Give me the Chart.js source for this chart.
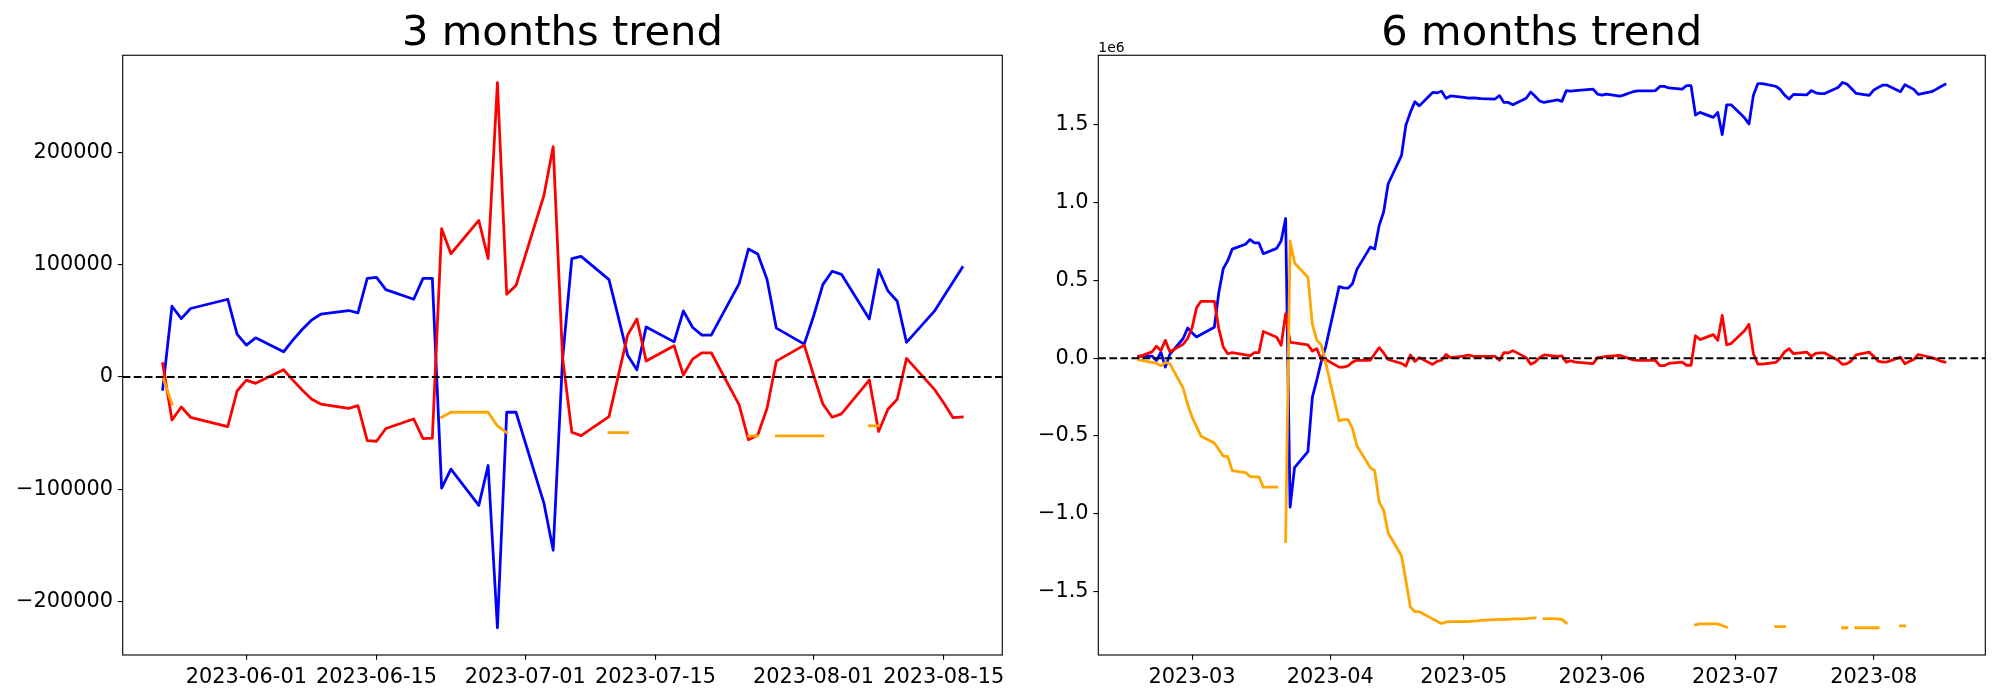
<!DOCTYPE html>
<html>
<head>
<meta charset="utf-8">
<title>Trend</title>
<script src="https://cdn.jsdelivr.net/npm/chart.js@4.4.0/dist/chart.umd.min.js"></script>
<style>
    html, body { margin: 0; padding: 0; background: #fff; }
    #wrap { position: relative; width: 2000px; height: 700px; }
    canvas { position: absolute; top: 0; }
</style>
</head>
<body>
<div id="wrap">
    <canvas id="chart3m" width="1040" height="700" style="left:0;width:1040px;height:700px"></canvas>
    <canvas id="chart6m" width="960" height="700" style="left:1040px;width:960px;height:700px"></canvas>
</div>
<script>
// --- 3 months ---
const dates3m = [
    '2023-05-23', '2023-05-24', '2023-05-25', '2023-05-26', '2023-05-30', '2023-05-31',
    '2023-06-01', '2023-06-02', '2023-06-05', '2023-06-06', '2023-06-07', '2023-06-08', '2023-06-09',
    '2023-06-12', '2023-06-13', '2023-06-14', '2023-06-15', '2023-06-16', '2023-06-19', '2023-06-20',
    '2023-06-21', '2023-06-22', '2023-06-23', '2023-06-26', '2023-06-27', '2023-06-28', '2023-06-29', '2023-06-30',
    '2023-07-03', '2023-07-04', '2023-07-05', '2023-07-06', '2023-07-07', '2023-07-10', '2023-07-11',
    '2023-07-12', '2023-07-13', '2023-07-14', '2023-07-17', '2023-07-18', '2023-07-19', '2023-07-20',
    '2023-07-21', '2023-07-24', '2023-07-25', '2023-07-26', '2023-07-27', '2023-07-28', '2023-07-31',
    '2023-08-01', '2023-08-02', '2023-08-03', '2023-08-04', '2023-08-07', '2023-08-08', '2023-08-09',
    '2023-08-10', '2023-08-11', '2023-08-14', '2023-08-15', '2023-08-16', '2023-08-17'
];
const blue3m = [
    -10900, 63000, 52000, 61000, 69200, 38200,
    28400, 34900, 22500, 32800, 42300, 50600, 55900, 59200, 57100, 87800, 88700, 77800, 69200, 87800,
    87800, -98800, -81900, -114200, -78700, -223000, -31300, -31300,
    -112100, -154100, 15000, 105300, 107400, 86700, 53500, 19500, 6500, 44600, 31300, 58800, 44100, 37300,
    37300, 83100, 113900, 109400, 86700, 43500, 29300,
    54100, 82200, 94100, 91400, 51700, 95500, 76600, 67400, 30800, 58600, 71600, 84600, 97600
];
const red3m = [
    12000, -38200, -26600, -35800, -44100, -12400,
    -2700, -5600, 6500, -2700, -11500, -19500, -24000, -27800, -25400, -56500, -57100, -45800, -37300, -54700,
    -54400, 132000, 109700, 139300, 105300, 262000, 73600, 81400,
    161500, 205000, 18000, -49100, -52100, -35200, 1000, 37300, 51700, 14200, 27800, 1800, 16000, 21600,
    21600, -24800, -55900, -51500, -27800, 14200, 28400,
    1800, -24000, -35800, -32800, -2700, -48500, -28700, -19800, 16600, -10900, -23000, -36100, -35500
];
const orange3m = [
    300, -24000, null, null, null, null,
    null, null, null, null, null, null, null, null, null, null, null, null, null, null,
    null, -35800, -31300, -31300, -31300, -43500, -49400, null,
    null, null, null, null, null, -49400, -49400, -49400, null, null, null, null, null, null,
    null, null, -52400, -52400, null, -52400, -52400,
    -52400, -52400, null, null, -43500, -43500, null, null, null, null, null, null, null
];
const xTicks3m = ['2023-06-01', '2023-06-15', '2023-07-01', '2023-07-15', '2023-08-01', '2023-08-15'];
const yTicks3m = [-200000, -100000, 0, 100000, 200000];

// --- 6 months (values in units of 1e6) ---
const dates6m = [
    '2023-02-17', '2023-02-20', '2023-02-21', '2023-02-22', '2023-02-23', '2023-02-24', '2023-02-27', '2023-02-28',
    '2023-03-01', '2023-03-02', '2023-03-03', '2023-03-06', '2023-03-07', '2023-03-08', '2023-03-09', '2023-03-10',
    '2023-03-13', '2023-03-14', '2023-03-15', '2023-03-16', '2023-03-17', '2023-03-20', '2023-03-21', '2023-03-22',
    '2023-03-23', '2023-03-24', '2023-03-27', '2023-03-28', '2023-03-29', '2023-03-30', '2023-03-31',
    '2023-04-03', '2023-04-04', '2023-04-05', '2023-04-06', '2023-04-07', '2023-04-10', '2023-04-11', '2023-04-12',
    '2023-04-13', '2023-04-14', '2023-04-17', '2023-04-18', '2023-04-19', '2023-04-20', '2023-04-21', '2023-04-24',
    '2023-04-25', '2023-04-26', '2023-04-27', '2023-04-28',
    '2023-05-01', '2023-05-02', '2023-05-03', '2023-05-04', '2023-05-05', '2023-05-08', '2023-05-09', '2023-05-10',
    '2023-05-11', '2023-05-12', '2023-05-15', '2023-05-16', '2023-05-17', '2023-05-18', '2023-05-19', '2023-05-22',
    '2023-05-23', '2023-05-24', '2023-05-25', '2023-05-26', '2023-05-30', '2023-05-31',
    '2023-06-01', '2023-06-02', '2023-06-05', '2023-06-06', '2023-06-07', '2023-06-08', '2023-06-09', '2023-06-12',
    '2023-06-13', '2023-06-14', '2023-06-15', '2023-06-16', '2023-06-19', '2023-06-20', '2023-06-21', '2023-06-22',
    '2023-06-23', '2023-06-26', '2023-06-27', '2023-06-28', '2023-06-29', '2023-06-30',
    '2023-07-03', '2023-07-04', '2023-07-05', '2023-07-06', '2023-07-07', '2023-07-10', '2023-07-11', '2023-07-12',
    '2023-07-13', '2023-07-14', '2023-07-17', '2023-07-18', '2023-07-19', '2023-07-20', '2023-07-21', '2023-07-24',
    '2023-07-25', '2023-07-26', '2023-07-27', '2023-07-28', '2023-07-31',
    '2023-08-01', '2023-08-02', '2023-08-03', '2023-08-04', '2023-08-07', '2023-08-08', '2023-08-09', '2023-08-10',
    '2023-08-11', '2023-08-14', '2023-08-15', '2023-08-16', '2023-08-17'
];
const blue6m = [
    0.014, 0.014, -0.015, 0.039, -0.057, 0.025, 0.127, 0.194,
    0.164, 0.137, 0.152, 0.199, 0.423, 0.576, 0.627, 0.701, 0.733, 0.763, 0.741, 0.741, 0.672, 0.706,
    0.755, 0.898, -0.957, -0.703, -0.600, -0.250, -0.139, -0.020, 0.075,
    0.460, 0.452, 0.450, 0.479, 0.571, 0.714, 0.702, 0.854, 0.940, 1.120, 1.302, 1.499, 1.580, 1.649,
    1.622, 1.708, 1.706, 1.716, 1.671, 1.686,
    1.676, 1.671, 1.674, 1.671, 1.669, 1.666, 1.688, 1.644, 1.644, 1.629, 1.671, 1.711, 1.684, 1.654,
    1.644, 1.661, 1.651, 1.720, 1.716, 1.720, 1.730, 1.698,
    1.691, 1.698, 1.684, 1.693, 1.703, 1.713, 1.718, 1.718, 1.720, 1.747, 1.747, 1.737, 1.730, 1.752,
    1.752, 1.563, 1.580, 1.548, 1.580, 1.437, 1.629, 1.629,
    1.545, 1.506, 1.691, 1.765, 1.765, 1.748, 1.728, 1.691, 1.666, 1.696, 1.693, 1.720, 1.706, 1.701,
    1.701, 1.740, 1.772, 1.762, 1.733, 1.703, 1.689,
    1.723, 1.740, 1.755, 1.755, 1.713, 1.758, 1.743, 1.728, 1.696, 1.713, 1.728, 1.745, 1.760
];
const red6m = [
    0.009, 0.041, 0.078, 0.049, 0.115, 0.041, 0.090, 0.127,
    0.196, 0.324, 0.366, 0.366, 0.189, 0.073, 0.029, 0.036, 0.021, 0.016, 0.036, 0.036, 0.172, 0.135,
    0.083, 0.287, 0.103, 0.098, 0.086, 0.046, 0.061, -0.008, -0.008,
    -0.057, -0.057, -0.050, -0.025, -0.013, -0.013, 0.029, 0.068, 0.034, -0.008, -0.033, -0.050, 0.021, -0.020,
    0.004, -0.040, -0.020, -0.013, 0.024, 0.004,
    0.014, 0.021, 0.014, 0.012, 0.012, 0.012, -0.013, 0.036, 0.034, 0.049, 0.004, -0.038, -0.025, 0.004,
    0.021, 0.012, 0.016, -0.025, -0.016, -0.025, -0.035, 0.004,
    0.007, 0.012, 0.019, 0.009, -0.001, -0.011, -0.013, -0.013, -0.013, -0.048, -0.048, -0.033, -0.025, -0.045,
    -0.045, 0.145, 0.120, 0.152, 0.115, 0.275, 0.086, 0.095,
    0.177, 0.218, 0.029, -0.038, -0.038, -0.027, -0.001, 0.041, 0.061, 0.029, 0.039, 0.012, 0.031, 0.034,
    0.034, -0.013, -0.040, -0.035, -0.016, 0.021, 0.039,
    0.012, -0.018, -0.025, -0.023, 0.007, -0.035, -0.020, -0.008, 0.024, 0.004, -0.006, -0.018, -0.025
];
const orange6m = [
    -0.011, -0.027, -0.032, -0.049, -0.027, -0.035, -0.193, -0.296,
    -0.378, -0.439, -0.501, -0.545, -0.587, -0.629, -0.631, -0.722, -0.735, -0.759, -0.762, -0.762, -0.828, -0.828,
    null, -1.178, 0.755, 0.612, 0.521, 0.219, 0.115, 0.086, -0.030,
    -0.403, -0.395, -0.395, -0.451, -0.562, -0.703, -0.722, -0.924, -0.976, -1.122, -1.269, -1.430, -1.599, -1.629,
    -1.629, -1.675, -1.690, -1.705, -1.695, -1.693,
    -1.693, -1.693, -1.690, -1.688, -1.685, -1.680, -1.678, -1.678, -1.678, -1.675, -1.673, -1.670, -1.668, null,
    -1.673, -1.675, -1.678, -1.702, null, null, null, null,
    null, null, null, null, null, null, null, null, null, null, null, null, null, null,
    null, -1.714, -1.707, -1.707, -1.707, -1.718, -1.729, null,
    null, null, null, null, null, -1.725, -1.725, -1.725, null, null, null, null, null, null,
    null, null, -1.732, -1.732, null, -1.732, -1.732,
    -1.732, -1.732, null, null, -1.720, -1.720, null, null, null, null, null, null, null
];
const xTicks6m = ['2023-03', '2023-04', '2023-05', '2023-06', '2023-07', '2023-08'];
const yTicks6m = [-1.5, -1.0, -0.5, 0, 0.5, 1.0, 1.5];

Chart.defaults.font.family = "'DejaVu Sans', sans-serif";
Chart.defaults.color = '#000';

const DAY = 86400000;
const PT = 100 / 72;   // matplotlib points -> px at 100 dpi

function toMs(s) {
    const [y, m, d] = s.split('-').map(Number);
    return Date.UTC(y, m - 1, d || 1);
}

function points(dates, values) {
    return dates.map((d, i) => ({ x: toMs(d), y: values[i] }));
}

// matplotlib style 5% margins
function padded(lo, hi) {
    const m = (hi - lo) * 0.05;
    return [lo - m, hi + m];
}

function minus(text) {
    return text.replace('-', '\u2212');
}

// box around the plot area (all four spines)
const frame = {
    id: 'frame',
    afterDraw(chart) {
        const { ctx, chartArea: a } = chart;
        ctx.save();
        ctx.strokeStyle = '#000';
        ctx.lineWidth = 0.8 * PT;
        ctx.strokeRect(a.left, a.top, a.right - a.left, a.bottom - a.top);
        ctx.restore();
    }
};

// "1e6" offset text above the y axis
const offsetText = {
    id: 'offsetText',
    afterDraw(chart) {
        const { ctx, chartArea: a } = chart;
        ctx.save();
        ctx.fillStyle = '#000';
        ctx.font = (10 * PT) + "px 'DejaVu Sans'";
        ctx.textAlign = 'left';
        ctx.textBaseline = 'alphabetic';
        ctx.fillText('1e6', a.left, a.top - 3.6);
        ctx.restore();
    }
};

function line(data, color, order) {
    return {
        data: data,
        borderColor: color,
        borderWidth: 2 * PT,
        pointRadius: 0,
        tension: 0,
        spanGaps: false,
        borderJoinStyle: 'round',
        borderCapStyle: 'square',
        order: order
    };
}

function makeChart(id, cfg) {
    const allX = cfg.dates.map(toMs);
    const xr = padded(Math.min(...allX), Math.max(...allX));
    const allY = [].concat(cfg.blue, cfg.red, cfg.orange).filter(v => v !== null);
    const yr = padded(Math.min(...allY), Math.max(...allY));
    const xTickMs = cfg.xTicks.map(toMs);

    const axisCommon = {
        type: 'linear',
        grid: { display: true, drawOnChartArea: false, drawTicks: true, tickLength: 3.5 * PT, color: '#000', lineWidth: 0.8 * PT },
        border: { display: false }
    };

    return new Chart(document.getElementById(id), {
        type: 'line',
        data: {
            datasets: [
                line(points(cfg.dates, cfg.blue), '#0000ff', 4),
                line(points(cfg.dates, cfg.red), '#ff0000', 3),
                line(points(cfg.dates, cfg.orange), '#ffa500', 2),
                {
                    data: [{ x: xr[0], y: 0 }, { x: xr[1], y: 0 }],
                    borderColor: '#000',
                    borderWidth: 1.5 * PT,
                    borderDash: [5.55 * PT, 2.4 * PT],
                    pointRadius: 0,
                    order: 1
                }
            ]
        },
        options: {
            responsive: false,
            devicePixelRatio: 1,
            animation: false,
            events: [],
            layout: { padding: { left: 0, right: cfg.padRight, top: 0, bottom: 0 } },
            plugins: {
                legend: { display: false },
                tooltip: { enabled: false },
                title: {
                    display: true,
                    text: cfg.title,
                    color: '#000',
                    fullSize: false,
                    font: { size: 30 * PT, weight: 'normal', lineHeight: 1 },
                    padding: { top: 13.6, bottom: 0 }
                }
            },
            scales: {
                x: Object.assign({}, axisCommon, {
                    min: xr[0],
                    max: xr[1],
                    afterBuildTicks: scale => { scale.ticks = xTickMs.map(v => ({ value: v })); },
                    afterFit: scale => { scale.height = 45; },
                    ticks: {
                        autoSkip: false, maxRotation: 0, minRotation: 0,
                        color: '#000', font: { size: 15 * PT }, padding: 3.5 * PT,
                        callback: (v, i) => cfg.xTicks[i]
                    }
                }),
                y: Object.assign({}, axisCommon, {
                    min: yr[0],
                    max: yr[1],
                    afterBuildTicks: scale => { scale.ticks = cfg.yTicks.map(v => ({ value: v })); },
                    afterFit: scale => { scale.width = cfg.axisLeft; },
                    ticks: {
                        color: '#000', font: { size: 15 * PT }, padding: 3.5 * PT,
                        callback: cfg.yLabel
                    }
                })
            }
        },
        plugins: cfg.extraPlugins.concat([frame])
    });
}

makeChart('chart3m', {
    title: '3 months trend',
    dates: dates3m, blue: blue3m, red: red3m, orange: orange3m,
    xTicks: xTicks3m, yTicks: yTicks3m,
    yLabel: v => minus(String(v)),
    axisLeft: 122.7,
    padRight: 1040 - 1002.3,
    extraPlugins: []
});

makeChart('chart6m', {
    title: '6 months trend',
    dates: dates6m, blue: blue6m, red: red6m, orange: orange6m,
    xTicks: xTicks6m, yTicks: yTicks6m,
    yLabel: v => minus(v.toFixed(1)),
    axisLeft: 1098.3 - 1040,
    padRight: 960 - (1985.3 - 1040),
    extraPlugins: [offsetText]
});
</script>
</body>
</html>
